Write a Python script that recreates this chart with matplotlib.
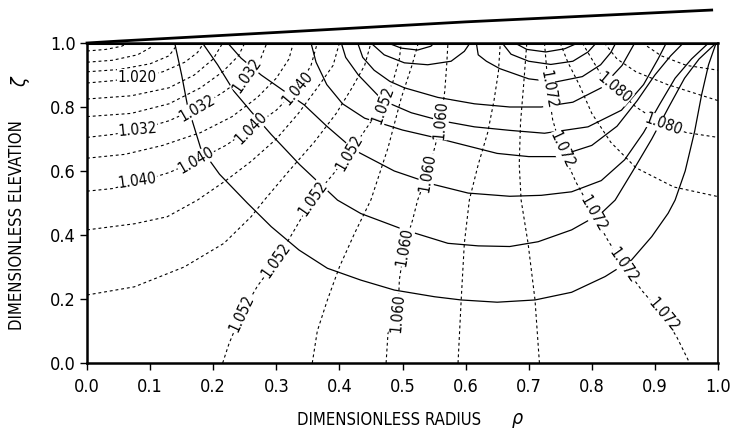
import matplotlib
matplotlib.use("Agg")
import matplotlib.pyplot as plt

plt.rcParams['font.family'] = ['DejaVu Sans']
plt.rcParams['font.stretch'] = 'condensed'

# ---------------- dashed contours (level -> points) ----------------
dash_1008 = [(0, 0.975), (0.03, 0.98), (0.055, 0.99), (0.065, 1.0)]
dash_1012 = [(0, 0.94), (0.04, 0.946), (0.08, 0.963), (0.10, 0.985), (0.105, 1.0)]
dash_1016 = [(0, 0.91), (0.05, 0.917), (0.10, 0.935), (0.13, 0.96), (0.145, 1.0)]
dash_1020 = [(0, 0.875), (0.04, 0.882), (0.08, 0.893), (0.12, 0.91), (0.155, 0.94), (0.175, 0.97), (0.185, 1.0)]
dash_1024 = [(0, 0.825), (0.07, 0.835), (0.13, 0.86), (0.17, 0.90), (0.20, 0.95), (0.215, 1.0)]
dash_1028 = [(0, 0.77), (0.07, 0.78), (0.13, 0.81), (0.18, 0.86), (0.215, 0.91), (0.24, 0.96), (0.25, 1.0)]
dash_1032 = [(0, 0.705), (0.04, 0.714), (0.08, 0.728), (0.13, 0.757), (0.175, 0.797), (0.215, 0.845),
             (0.254, 0.90), (0.275, 0.95), (0.285, 1.0)]
dash_1036 = [(0, 0.64), (0.06, 0.652), (0.12, 0.68), (0.18, 0.72), (0.23, 0.77), (0.27, 0.83),
             (0.30, 0.89), (0.32, 0.95), (0.327, 1.0)]
dash_1040 = [(0, 0.537), (0.04, 0.545), (0.08, 0.565), (0.13, 0.595), (0.173, 0.632), (0.22, 0.68),
             (0.26, 0.734), (0.30, 0.79), (0.334, 0.859), (0.355, 0.93), (0.365, 1.0)]
dash_1044 = [(0, 0.416), (0.075, 0.435), (0.127, 0.457), (0.175, 0.509), (0.22, 0.57), (0.26, 0.63),
             (0.30, 0.70), (0.335, 0.78), (0.365, 0.86), (0.39, 0.93), (0.40, 1.0)]
dash_1048 = [(0, 0.2125), (0.075, 0.238), (0.154, 0.30), (0.217, 0.374), (0.26, 0.457), (0.281, 0.509),
             (0.32, 0.60), (0.36, 0.69), (0.395, 0.78), (0.42, 0.86), (0.44, 0.93), (0.45, 1.0)]
dash_1052 = [(0.215, 0), (0.225, 0.06), (0.245, 0.155), (0.27, 0.24), (0.30, 0.32), (0.33, 0.42),
             (0.358, 0.515), (0.39, 0.59), (0.416, 0.656), (0.445, 0.74), (0.469, 0.807),
             (0.485, 0.88), (0.495, 0.95), (0.498, 1.0)]
dash_1056 = [(0.357, 0), (0.365, 0.10), (0.381, 0.197), (0.40, 0.30), (0.424, 0.405), (0.45, 0.51),
             (0.477, 0.672), (0.498, 0.828), (0.515, 0.93), (0.525, 1.0)]
dash_1060 = [(0.474, 0), (0.477, 0.093), (0.493, 0.155), (0.495, 0.26), (0.503, 0.363), (0.516, 0.447),
             (0.524, 0.509), (0.54, 0.594), (0.552, 0.68), (0.561, 0.76), (0.567, 0.85),
             (0.570, 0.93), (0.572, 1.0)]
dash_1064 = [(0.588, 0), (0.593, 0.197), (0.598, 0.374), (0.606, 0.51), (0.62, 0.62), (0.635, 0.72),
             (0.645, 0.82), (0.652, 0.91), (0.655, 1.0)]
dash_1068 = [(0.717, 0), (0.71, 0.197), (0.699, 0.374), (0.688, 0.509), (0.685, 0.62), (0.687, 0.75),
             (0.692, 0.87), (0.697, 1.0)]
dash_1072 = [(0.725, 1.0), (0.728, 0.93), (0.731, 0.854), (0.738, 0.76), (0.752, 0.666), (0.775, 0.565),
             (0.802, 0.468), (0.825, 0.385), (0.85, 0.306), (0.88, 0.225), (0.913, 0.15),
             (0.935, 0.08), (0.955, 0.0)]
dash_1076 = [(0.75, 1.0), (0.762, 0.94), (0.78, 0.87), (0.80, 0.78), (0.83, 0.69), (0.87, 0.61),
             (0.93, 0.55), (1.0, 0.52)]
dash_1080 = [(0.785, 1.0), (0.80, 0.95), (0.815, 0.90), (0.836, 0.86), (0.87, 0.80), (0.913, 0.745),
             (0.95, 0.72), (1.0, 0.705)]
dash_1084 = [(0.82, 1.0), (0.84, 0.95), (0.87, 0.91), (0.92, 0.87), (1.0, 0.82)]
dash_1088 = [(0.88, 1.0), (0.91, 0.96), (0.95, 0.93), (1.0, 0.915)]

dashed_curves = [dash_1008, dash_1012, dash_1016, dash_1020, dash_1024, dash_1028, dash_1032,
                 dash_1036, dash_1040, dash_1044, dash_1048, dash_1052, dash_1056, dash_1060,
                 dash_1064, dash_1068, dash_1072, dash_1076, dash_1080, dash_1084, dash_1088]

# ---------------- solid contours ----------------
solid_u1 = [(0.139, 1.0), (0.15, 0.9), (0.159, 0.807), (0.18, 0.672), (0.21, 0.59), (0.254, 0.5),
            (0.292, 0.426), (0.336, 0.353), (0.381, 0.296), (0.434, 0.259), (0.487, 0.228),
            (0.551, 0.207), (0.593, 0.197), (0.65, 0.19), (0.71, 0.197), (0.768, 0.221),
            (0.821, 0.27), (0.863, 0.322), (0.895, 0.395), (0.921, 0.468), (0.932, 0.509),
            (0.948, 0.6), (0.963, 0.724), (0.974, 0.838), (0.985, 0.932), (0.997, 1.0)]
solid_u2 = [(0.183, 1.0), (0.207, 0.932), (0.233, 0.849), (0.26, 0.786), (0.292, 0.714),
            (0.337, 0.62), (0.397, 0.509), (0.434, 0.467), (0.503, 0.416), (0.572, 0.374),
            (0.62, 0.366), (0.67, 0.364), (0.715, 0.379), (0.768, 0.416), (0.815, 0.468),
            (0.837, 0.509), (0.865, 0.60), (0.895, 0.70), (0.922, 0.80), (0.947, 0.89),
            (0.970, 0.95), (0.997, 1.0)]
solid_u3 = [(0.223, 1.0), (0.244, 0.953), (0.276, 0.9), (0.313, 0.849), (0.344, 0.807), (0.38, 0.74),
            (0.424, 0.665), (0.487, 0.60), (0.551, 0.557), (0.604, 0.531), (0.67, 0.521),
            (0.72, 0.524), (0.768, 0.535), (0.815, 0.57), (0.852, 0.635), (0.882, 0.72),
            (0.908, 0.81), (0.932, 0.89), (0.958, 0.95), (0.985, 1.0)]
solid_u4a = [(0.355, 1.0), (0.363, 0.94), (0.38, 0.87), (0.405, 0.81), (0.44, 0.765), (0.50, 0.728),
             (0.546, 0.707), (0.60, 0.68), (0.65, 0.655), (0.70, 0.645), (0.745, 0.645),
             (0.80, 0.68), (0.84, 0.74), (0.872, 0.82), (0.90, 0.90), (0.925, 0.96), (0.945, 1.0)]
solid_u4 = [(0.403, 1.0), (0.41, 0.955), (0.43, 0.90), (0.469, 0.82), (0.514, 0.782), (0.561, 0.757),
            (0.614, 0.738), (0.67, 0.727), (0.725, 0.718), (0.794, 0.738), (0.847, 0.79),
            (0.882, 0.87), (0.905, 0.95), (0.918, 1.0)]
solid_u5 = [(0.429, 1.0), (0.437, 0.955), (0.455, 0.915), (0.48, 0.88), (0.503, 0.86), (0.556, 0.83),
            (0.614, 0.81), (0.67, 0.80), (0.72, 0.80), (0.77, 0.815), (0.815, 0.86), (0.848, 0.93),
            (0.868, 1.0)]
solid_a1 = [(0.45, 1.0), (0.471, 0.963), (0.503, 0.938), (0.54, 0.932), (0.577, 0.943), (0.598, 0.974),
            (0.607, 1.0)]
solid_a2 = [(0.477, 1.0), (0.498, 0.984), (0.524, 0.978), (0.545, 0.99), (0.55, 1.0)]
solid_b1 = [(0.617, 1.0), (0.62, 0.963), (0.633, 0.943), (0.654, 0.92), (0.70, 0.888), (0.742, 0.878),
            (0.785, 0.895), (0.814, 0.932), (0.83, 0.97), (0.838, 1.0)]
solid_b2 = [(0.658, 1.0), (0.672, 0.965), (0.70, 0.943), (0.735, 0.933), (0.77, 0.943), (0.794, 0.972),
            (0.807, 1.0)]
solid_b3 = [(0.678, 1.0), (0.697, 0.98), (0.727, 0.972), (0.757, 0.982), (0.778, 1.0)]

solid_curves = [solid_u1, solid_u2, solid_u3, solid_u4a, solid_u4, solid_u5,
                solid_a1, solid_a2, solid_b1, solid_b2, solid_b3]

# ---------------- inline contour labels ----------------
label_text = ['1.020', '1.032', '1.040', '1.032', '1.040', '1.032', '1.040', '1.040',
              '1.052', '1.052', '1.052', '1.052', '1.052',
              '1.060', '1.060', '1.060', '1.060',
              '1.072', '1.072', '1.072', '1.072', '1.072', '1.080', '1.080']
label_x = [0.08, 0.08, 0.08, 0.175, 0.173, 0.254, 0.26, 0.334,
           0.245, 0.30, 0.358, 0.416, 0.469,
           0.493, 0.503, 0.54, 0.561,
           0.731, 0.752, 0.802, 0.85, 0.913, 0.836, 0.913]
label_y = [0.893, 0.728, 0.568, 0.797, 0.632, 0.90, 0.734, 0.859,
           0.155, 0.32, 0.515, 0.656, 0.807,
           0.155, 0.363, 0.594, 0.76,
           0.854, 0.666, 0.468, 0.306, 0.15, 0.86, 0.745]
label_rot = [0, 5, 8, 30, 30, 55, 45, 50,
             65, 55, 55, 60, 70,
             85, 80, 80, 85,
             -80, -65, -60, -55, -50, -40, -20]

# free surface line above the domain
surf_x = [0.0, 0.05, 0.3, 0.6, 0.99]
surf_y = [1.0, 1.006, 1.033, 1.066, 1.103]

x_ticks = [0.0, 0.1, 0.2, 0.3, 0.4, 0.5, 0.6, 0.7, 0.8, 0.9, 1.0]
y_ticks = [0.0, 0.2, 0.4, 0.6, 0.8, 1.0]

fig = plt.figure(figsize=(7.35, 4.33), dpi=100)
ax = fig.add_axes([87 / 735, 70 / 433, 631 / 735, 320 / 433])

for c in dashed_curves:
    xs = [p[0] for p in c]
    ys = [p[1] for p in c]
    ax.plot(xs, ys, color='black', lw=0.8, linestyle=(0, (2.6, 2.6)), zorder=2)
for c in solid_curves:
    xs = [p[0] for p in c]
    ys = [p[1] for p in c]
    ax.plot(xs, ys, color='black', lw=0.9, zorder=2)

for t, x, y, r in zip(label_text, label_x, label_y, label_rot):
    ax.text(x, y, t, rotation=r, rotation_mode='anchor', ha='center', va='center',
            fontsize=11, zorder=4,
            bbox=dict(facecolor='white', edgecolor='none', pad=0.3))

ax.plot(surf_x, surf_y, color='black', lw=2.0, clip_on=False, zorder=5)
ax.axhline(1.0, color='black', lw=2.2, zorder=5)

ax.set_xlim(0, 1)
ax.set_ylim(0, 1)
ax.set_xticks(x_ticks)
ax.set_yticks(y_ticks)
ax.set_xticklabels([f'{v:.1f}' for v in x_ticks])
ax.set_yticklabels([f'{v:.1f}' for v in y_ticks])
ax.tick_params(axis='both', direction='out', length=5, width=1.0, labelsize=13)
ax.tick_params(axis='x', pad=6)
ax.tick_params(axis='y', pad=3)
for side in ['left', 'bottom', 'top']:
    ax.spines[side].set_linewidth(1.8)
ax.spines['right'].set_linewidth(1.2)

fig.text(389.5 / 735, 1 - 420 / 433, 'DIMENSIONLESS RADIUS', ha='center', va='center', fontsize=12)
fig.text(517 / 735, 1 - 421 / 433, r'$\rho$', ha='center', va='center', fontsize=14)
fig.text(17.5 / 735, 1 - 225.5 / 433, 'DIMENSIONLESS ELEVATION', ha='center', va='center',
         rotation=90, fontsize=12)
fig.text(21 / 735, 1 - 81 / 433, r'$\zeta$', ha='center', va='center', rotation=90, fontsize=14)

fig.savefig('out.png', dpi=100)
